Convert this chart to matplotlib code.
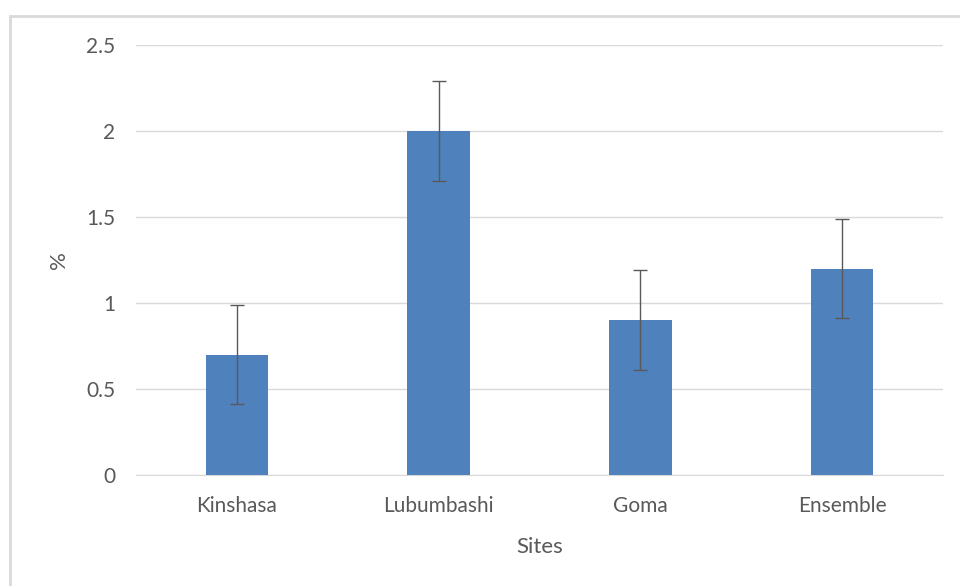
import matplotlib.pyplot as plt
import numpy as np
from matplotlib.patches import Rectangle

sites = ["Kinshasa", "Lubumbashi", "Goma", "Ensemble"]
values = [0.7, 2.0, 0.9, 1.2]
errors = [0.29, 0.29, 0.29, 0.29]

plt.rcParams['font.family'] = ['Lato', 'DejaVu Sans']

fig = plt.figure(figsize=(9.6, 5.86), dpi=100)
ax = fig.add_axes([136/960, 1-475/586, (943-136)/960, (475-45)/586])

# chart border (light gray frame like the Excel chart area)
fig.patches.append(Rectangle((10/960, -0.1), 1.2, 1 - 16/586 + 0.1,
                             transform=fig.transFigure, fill=False,
                             edgecolor='#d9d9d9', linewidth=2))

x = np.arange(len(sites))
ax.bar(x, values, width=0.31, color='#4f81bd', zorder=3)
ax.errorbar(x, values, yerr=errors, fmt='none', ecolor='#595959',
            elinewidth=1, capsize=4.7, capthick=1, zorder=4)

ax.set_xlim(-0.5, 3.5)
ax.set_ylim(0, 2.5)
ax.set_yticks([0, 0.5, 1, 1.5, 2, 2.5])
ax.set_yticklabels(["0", "0.5", "1", "1.5", "2", "2.5"])
ax.set_xticks(x)
ax.set_xticklabels(sites)

ax.grid(axis='y', color='#d9d9d9', linewidth=1, zorder=0)
for s in ['left', 'right', 'top']:
    ax.spines[s].set_visible(False)
ax.spines['bottom'].set_color('#d9d9d9')
ax.tick_params(axis='both', length=0, labelsize=15, colors='#595959')
ax.tick_params(axis='y', pad=15)
ax.tick_params(axis='x', pad=15)

ax.set_xlabel("Sites", fontsize=16, color='#595959', labelpad=15)
ax.set_ylabel("%", fontsize=16, color='#595959', labelpad=12)

fig.savefig("out.png", dpi=100)
